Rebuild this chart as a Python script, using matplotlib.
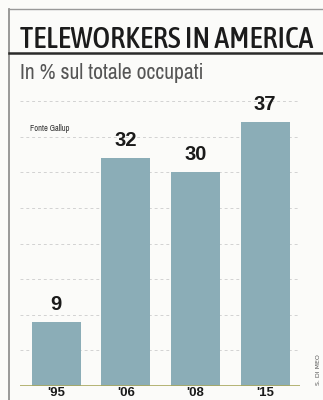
import numpy as np
import matplotlib.pyplot as plt
from matplotlib.lines import Line2D
from matplotlib import font_manager

# teleworkers, % of employed
years = ["'95", "'06", "'08", "'15"]
share = [9, 32, 30, 37]

W, H = 323, 400
DPI = 100


def narrow_font(want=400):
    # pick an installed condensed face, if there is one
    cands = []
    for f in font_manager.fontManager.ttflist:
        narrow = ('Condensed' in f.name or 'Narrow' in f.name
                  or f.stretch in ('condensed', 'semi-condensed', 'extra-condensed', 600, 700))
        if narrow and f.style == 'normal':
            w = f.weight if isinstance(f.weight, int) else 400
            cands.append((abs(w - want), f.name, f.fname))
    if not cands:
        return font_manager.FontProperties(family=['Liberation Sans', 'DejaVu Sans'],
                                           weight=want)
    cands.sort()
    return font_manager.FontProperties(fname=cands[0][2])


fig = plt.figure(figsize=(W / DPI, H / DPI), dpi=DPI)
fig.patch.set_facecolor('#fbfbf9')


def px(x, y):
    # pixel position (from top left) -> figure fraction
    return x / W, 1 - y / H


def fit_text(x, y, s, target_w, **kw):
    # shrink/grow a text until it spans target_w pixels
    t = fig.text(*px(x, y), s, **kw)
    r = fig.canvas.get_renderer()
    for _ in range(3):
        w = t.get_window_extent(r).width
        t.set_fontsize(t.get_fontsize() * target_w / w)
    return t


# frame lines
fig.add_artist(Line2D([9 / W, 9 / W], [0, 1 - 9 / H], color='#888888', lw=1.2))
fig.add_artist(Line2D([9 / W, 1], [1 - 9 / H, 1 - 9 / H], color='#999999', lw=1.0))
fig.add_artist(Line2D([9 / W, 1], [1 - 53 / H, 1 - 53 / H], color='#2a2a2a', lw=1.8))

fit_text(20, 48, 'TELEWORKERS IN AMERICA', 293, fontproperties=narrow_font(500),
         color='#1b1b1b', va='baseline', ha='left')
fit_text(20, 79, 'In % sul totale occupati', 185, fontproperties=narrow_font(400),
         color='#555555', va='baseline', ha='left')

ax = fig.add_axes([20 / W, 14 / H, 280 / W, 285 / H])
ax.set_facecolor('none')
x = np.arange(len(years))
ax.bar(x, share, width=0.7, color='#8badb7', zorder=2)
ax.set_xlim(-0.52, 3.5)
ax.set_ylim(0, 40)

for g in range(5, 41, 5):
    ax.axhline(g, color='#d2d2d2', lw=0.7, ls=(0, (3, 3)), zorder=1)
ax.axhline(0, color='#a9a85e', lw=1.2, zorder=3)

bold = font_manager.FontProperties(family=['Liberation Sans', 'DejaVu Sans'],
                                   weight='bold', size=14.5)
for xi, v in zip(x, share):
    ax.annotate(str(v), (xi, v), xytext=(0, 6), textcoords='offset points',
                ha='center', va='bottom', fontproperties=bold, color='#1a1a1a')
    # year labels sit just under the baseline, inside the bottom edge
    ax.annotate(years[xi], (xi, 0), xycoords=('data', 'figure pixels'),
                xytext=(xi, 1), textcoords=('data', 'figure pixels'),
                ha='center', va='bottom', fontproperties=bold, fontsize=9.5,
                color='#1a1a1a', annotation_clip=False)

for s in ax.spines.values():
    s.set_visible(False)
ax.set_xticks([])
ax.set_yticks([])

fig.text(*px(30, 131), 'Fonte Gallup', fontproperties=narrow_font(400),
         fontsize=6, color='#333333', ha='left', va='baseline')
fig.text(*px(318, 385), 'S. DI MEO', fontsize=4.5, color='#555555',
         rotation=90, ha='center', va='bottom')

fig.savefig('out.png', dpi=DPI, facecolor=fig.get_facecolor())
